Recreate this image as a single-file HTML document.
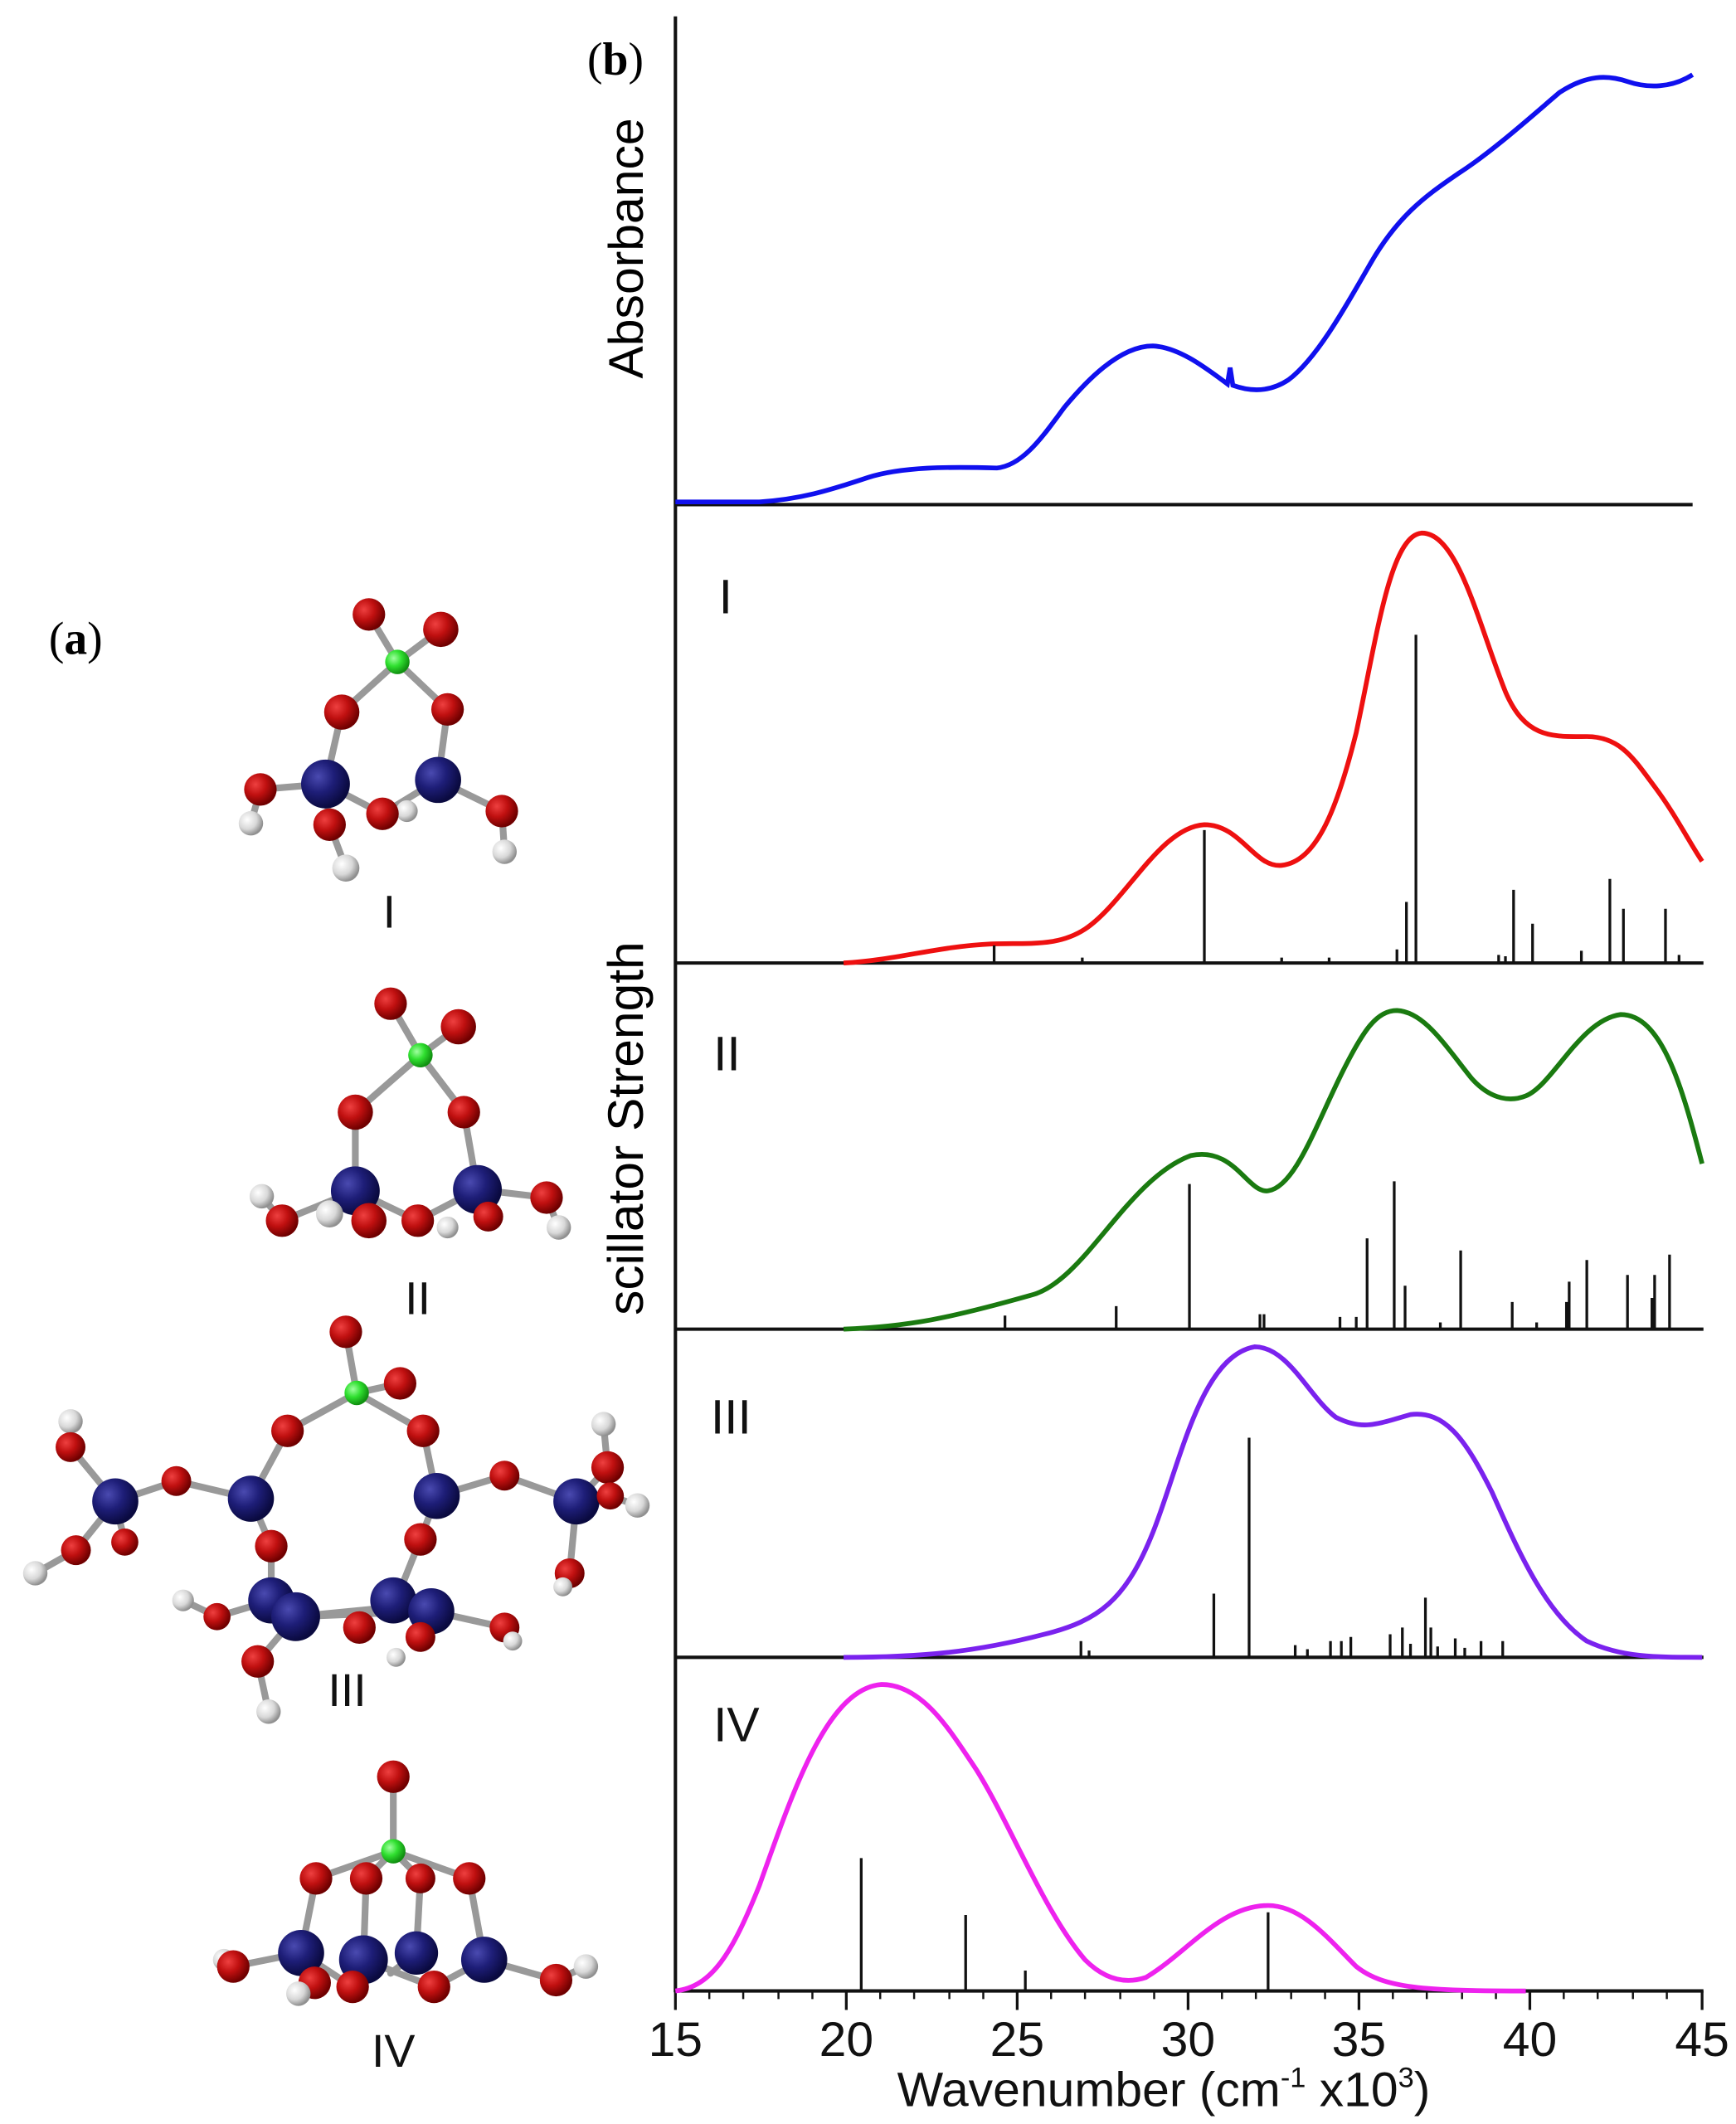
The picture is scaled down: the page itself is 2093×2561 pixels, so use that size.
<!DOCTYPE html>
<html><head><meta charset="utf-8"><style>
html,body{margin:0;padding:0;background:#fff;}
svg{display:block;}
</style></head><body>
<svg width="2093" height="2561" viewBox="0 0 1280 1566" xmlns="http://www.w3.org/2000/svg" font-family="Liberation Sans, sans-serif">
<defs>
<radialGradient id="gO" cx="35%" cy="35%" r="65%"><stop offset="0" stop-color="#ee4040"/><stop offset="0.5" stop-color="#c01010"/><stop offset="1" stop-color="#700000"/></radialGradient>
<radialGradient id="gS" cx="35%" cy="35%" r="65%"><stop offset="0" stop-color="#4a4ab0"/><stop offset="0.5" stop-color="#1e1e78"/><stop offset="1" stop-color="#0a0a40"/></radialGradient>
<radialGradient id="gG" cx="35%" cy="35%" r="65%"><stop offset="0" stop-color="#a0ffa0"/><stop offset="0.5" stop-color="#30e030"/><stop offset="1" stop-color="#109010"/></radialGradient>
<radialGradient id="gH" cx="35%" cy="35%" r="65%"><stop offset="0" stop-color="#ffffff"/><stop offset="0.6" stop-color="#d8d8d8"/><stop offset="1" stop-color="#909090"/></radialGradient>
</defs>
<rect width="1280" height="1566" fill="#fff"/>

<text x="433" y="55" font-family="Liberation Serif, serif" font-size="34">(<tspan font-weight="bold">b</tspan>)</text>
<text x="36" y="482" font-family="Liberation Serif, serif" font-size="34">(<tspan font-weight="bold">a</tspan>)</text>
<text transform="translate(474,183) rotate(-90)" text-anchor="middle" font-size="36">Absorbance</text>
<text transform="translate(474,832) rotate(-90)" text-anchor="middle" font-size="37">scillator Strength</text>

<g stroke="#111" stroke-width="2.5" fill="none">
<line x1="498" y1="12" x2="498" y2="1469"/>
<line x1="498" y1="372" x2="1248" y2="372"/>
<line x1="498" y1="710" x2="1256" y2="710"/>
<line x1="498" y1="980" x2="1256" y2="980"/>
<line x1="498" y1="1222" x2="1256" y2="1222"/>
<line x1="498" y1="1468" x2="1256" y2="1468"/>
</g>
<g stroke="#111" stroke-width="2">
<line x1="498" y1="1468" x2="498" y2="1482"/><line x1="624" y1="1468" x2="624" y2="1482"/><line x1="750" y1="1468" x2="750" y2="1482"/><line x1="876" y1="1468" x2="876" y2="1482"/><line x1="1002" y1="1468" x2="1002" y2="1482"/><line x1="1128" y1="1468" x2="1128" y2="1482"/><line x1="1255" y1="1468" x2="1255" y2="1482"/>
</g>
<g stroke="#111" stroke-width="1.5">
<path d="M523 1468v6M548 1468v6M574 1468v6M599 1468v6M649 1468v6M674 1468v6M700 1468v6M725 1468v6M775 1468v6M800 1468v6M826 1468v6M851 1468v6M901 1468v6M926 1468v6M952 1468v6M977 1468v6M1027 1468v6M1052 1468v6M1078 1468v6M1103 1468v6M1153 1468v6M1178 1468v6M1204 1468v6M1229 1468v6"/>
</g>
<g font-size="36" text-anchor="middle" fill="#111">
<text x="498" y="1516">15</text><text x="624" y="1516">20</text><text x="750" y="1516">25</text><text x="876" y="1516">30</text><text x="1002" y="1516">35</text><text x="1128" y="1516">40</text><text x="1255" y="1516">45</text>
<text x="858" y="1553" font-size="36">Wavenumber (cm<tspan font-size="21" dy="-14">-1</tspan><tspan dy="14"> x10</tspan><tspan font-size="21" dy="-14">3</tspan><tspan dy="14">)</tspan></text>
</g>
<g font-size="36" fill="#111">
<text x="530" y="452">I</text><text x="526" y="789">II</text><text x="524" y="1057">III</text><text x="526" y="1284">IV</text>
</g>

<path fill="none" stroke="#1010ee" stroke-width="3.5" d="M498 370 L560 370 C590 368 610 362 640 352 C665 344 700 344 735 345 C755 343 770 320 785 300 C800 282 825 255 850 255 C870 256 890 272 905 283 L907 271 L909 284 C920 288 935 290 950 280 C970 265 990 230 1010 195 C1030 160 1050 145 1075 128 C1100 112 1130 85 1150 68 C1170 55 1185 55 1200 60 C1215 65 1232 65 1248 55"/>

<path fill="none" stroke="#ee1010" stroke-width="3.5" d="M622 710 C660 708 690 698 730 696 C760 695 780 698 800 685 C830 665 855 610 888 608 C915 608 925 640 945 638 C970 635 985 600 1000 540 C1015 470 1025 395 1048 393 C1075 392 1090 460 1110 510 C1125 545 1145 543 1170 543 C1195 543 1205 560 1220 580 C1235 600 1245 620 1255 635"/>
<g stroke="#111" stroke-width="2">
<path d="M733 710V697M888 710V612M1044 710V468M1037 710V665M1030 710V700M1116 710V656M1130 710V681M1187 710V648M1197 710V670M1228 710V670M1166 710V701M1105 710V704M1110 710V705M1238 710V704M798 710V706M945 710V706M980 710V706"/>
</g>

<path fill="none" stroke="#1a7a10" stroke-width="3.5" d="M622 980 C670 978 700 972 760 955 C800 945 830 870 878 852 C910 845 920 880 935 878 C955 875 970 830 990 790 C1005 760 1015 745 1030 745 C1050 746 1065 770 1085 795 C1100 812 1115 812 1125 808 C1145 800 1165 752 1195 748 C1225 748 1240 800 1255 858"/>
<g stroke="#111" stroke-width="2">
<path d="M741 980V970M823 980V963M877 980V873M1028 980V871M1008 980V913M1036 980V948M1077 980V922M1200 980V940M1170 980V929M1157 980V945M1155 980V960M1231 980V925M1220 980V940M1218 980V957M929 980V969M932 980V969M988 980V971M1000 980V971M1115 980V960M1133 980V975M1062 980V975"/>
</g>

<path fill="none" stroke="#7a22ee" stroke-width="3.5" d="M622 1222 C680 1222 720 1218 770 1205 C810 1195 830 1180 850 1130 C870 1080 885 1000 925 993 C950 993 965 1030 985 1045 C1005 1055 1015 1050 1040 1043 C1065 1040 1080 1060 1100 1100 C1120 1145 1140 1190 1170 1210 C1195 1222 1220 1222 1255 1222"/>
<g stroke="#111" stroke-width="2">
<path d="M921 1222V1060M895 1222V1175M797 1222V1210M803 1222V1217M1051 1222V1178M1055 1222V1200M1034 1222V1200M1025 1222V1205M996 1222V1207M989 1222V1210M981 1222V1210M955 1222V1213M964 1222V1216M1073 1222V1208M1092 1222V1210M1108 1222V1210M1040 1222V1212M1060 1222V1214M1080 1222V1215"/>
</g>

<path fill="none" stroke="#ee22ee" stroke-width="3.5" d="M498 1468 C525 1465 540 1440 560 1390 C585 1320 610 1245 650 1242 C680 1242 700 1275 720 1305 C745 1345 770 1410 800 1445 C815 1460 830 1463 845 1458 C875 1440 900 1405 935 1405 C960 1405 980 1430 1000 1450 C1020 1466 1050 1468 1125 1468"/>
<g stroke="#111" stroke-width="2">
<path d="M635 1468V1370M712 1468V1412M756 1468V1453M935 1468V1410"/>
</g>

<g stroke="#999" stroke-width="5" stroke-linecap="round">
<path d="M293 488L272 453M293 488L325 464M293 488L252 525M293 488L330 523M252 525L240 578M330 523L323 575M240 578L192 582M240 578L243 608M240 578L282 600M323 575L282 600M323 575L370 598M192 582L185 607M243 608L255 640M370 598L372 628"/>
<path d="M310 778L288 740M310 778L338 757M310 778L262 820M310 778L342 820M262 820L262 878M342 820L352 877M262 878L208 900M262 878L272 900M262 878L308 900M352 877L308 900M352 877L403 883M352 877L360 897M208 900L193 882M403 883L412 905"/>
<path d="M263 1027L255 982M263 1027L295 1020M263 1027L212 1055M263 1027L312 1055M212 1055L185 1105M312 1055L322 1103M185 1105L130 1092M130 1092L85 1107M322 1103L372 1088M372 1088L425 1107M85 1107L52 1067M85 1107L56 1143M85 1107L92 1137M52 1067L52 1048M56 1143L26 1160M425 1107L448 1082M425 1107L450 1103M425 1107L420 1160M448 1082L445 1050M450 1103L470 1110M185 1105L200 1140M322 1103L310 1135M200 1140L200 1180M310 1135L290 1185M218 1192L290 1185M218 1192L318 1188M200 1180L160 1192M318 1188L372 1200M218 1192L190 1225M190 1225L198 1262M160 1192L135 1180"/>
<path d="M290 1310L290 1365M290 1365L233 1385M290 1365L270 1385M290 1365L310 1385M290 1365L346 1385M233 1385L222 1440M270 1385L268 1445M310 1385L307 1440M346 1385L357 1445M222 1440L172 1450M357 1445L410 1460M410 1460L432 1450M222 1440L260 1465M268 1445L320 1465M307 1440L288 1455M357 1445L320 1465"/>
</g>
<g>
<circle cx="185" cy="607" r="9" fill="url(#gH)"/><circle cx="255" cy="640" r="10" fill="url(#gH)"/><circle cx="372" cy="628" r="9" fill="url(#gH)"/><circle cx="300" cy="598" r="8" fill="url(#gH)"/>
<circle cx="272" cy="453" r="12" fill="url(#gO)"/><circle cx="325" cy="464" r="13" fill="url(#gO)"/><circle cx="252" cy="525" r="13" fill="url(#gO)"/><circle cx="330" cy="523" r="12" fill="url(#gO)"/>
<circle cx="293" cy="488" r="9" fill="url(#gG)"/>
<circle cx="240" cy="578" r="18" fill="url(#gS)"/><circle cx="323" cy="575" r="17" fill="url(#gS)"/>
<circle cx="192" cy="582" r="12" fill="url(#gO)"/><circle cx="243" cy="608" r="12" fill="url(#gO)"/><circle cx="282" cy="600" r="12" fill="url(#gO)"/><circle cx="370" cy="598" r="12" fill="url(#gO)"/>
<circle cx="193" cy="882" r="9" fill="url(#gH)"/><circle cx="412" cy="905" r="9" fill="url(#gH)"/>
<circle cx="288" cy="740" r="12" fill="url(#gO)"/><circle cx="338" cy="757" r="13" fill="url(#gO)"/><circle cx="262" cy="820" r="13" fill="url(#gO)"/><circle cx="342" cy="820" r="12" fill="url(#gO)"/>
<circle cx="310" cy="778" r="9" fill="url(#gG)"/>
<circle cx="262" cy="878" r="18" fill="url(#gS)"/><circle cx="352" cy="877" r="18" fill="url(#gS)"/>
<circle cx="360" cy="897" r="11" fill="url(#gO)"/><circle cx="208" cy="900" r="12" fill="url(#gO)"/><circle cx="243" cy="895" r="10" fill="url(#gH)"/><circle cx="272" cy="900" r="13" fill="url(#gO)"/><circle cx="308" cy="900" r="12" fill="url(#gO)"/><circle cx="330" cy="905" r="8" fill="url(#gH)"/><circle cx="403" cy="883" r="12" fill="url(#gO)"/>
<circle cx="52" cy="1048" r="9" fill="url(#gH)"/><circle cx="445" cy="1050" r="9" fill="url(#gH)"/><circle cx="26" cy="1160" r="9" fill="url(#gH)"/><circle cx="470" cy="1110" r="9" fill="url(#gH)"/><circle cx="135" cy="1180" r="8" fill="url(#gH)"/>
<circle cx="255" cy="982" r="12" fill="url(#gO)"/><circle cx="295" cy="1020" r="12" fill="url(#gO)"/><circle cx="212" cy="1055" r="12" fill="url(#gO)"/><circle cx="312" cy="1055" r="12" fill="url(#gO)"/>
<circle cx="263" cy="1027" r="9" fill="url(#gG)"/>
<circle cx="52" cy="1067" r="11" fill="url(#gO)"/><circle cx="130" cy="1092" r="11" fill="url(#gO)"/><circle cx="372" cy="1088" r="11" fill="url(#gO)"/><circle cx="92" cy="1137" r="10" fill="url(#gO)"/><circle cx="56" cy="1143" r="11" fill="url(#gO)"/>
<circle cx="85" cy="1107" r="17" fill="url(#gS)"/><circle cx="185" cy="1105" r="17" fill="url(#gS)"/><circle cx="322" cy="1103" r="17" fill="url(#gS)"/><circle cx="425" cy="1107" r="17" fill="url(#gS)"/>
<circle cx="448" cy="1082" r="12" fill="url(#gO)"/><circle cx="450" cy="1103" r="10" fill="url(#gO)"/><circle cx="420" cy="1160" r="11" fill="url(#gO)"/><circle cx="415" cy="1170" r="7" fill="url(#gH)"/>
<circle cx="200" cy="1140" r="12" fill="url(#gO)"/><circle cx="310" cy="1135" r="12" fill="url(#gO)"/>
<circle cx="160" cy="1192" r="10" fill="url(#gO)"/><circle cx="200" cy="1180" r="17" fill="url(#gS)"/><circle cx="290" cy="1180" r="17" fill="url(#gS)"/><circle cx="318" cy="1188" r="17" fill="url(#gS)"/><circle cx="218" cy="1192" r="18" fill="url(#gS)"/>
<circle cx="265" cy="1200" r="12" fill="url(#gO)"/><circle cx="310" cy="1207" r="11" fill="url(#gO)"/><circle cx="372" cy="1200" r="11" fill="url(#gO)"/><circle cx="378" cy="1210" r="7" fill="url(#gH)"/><circle cx="292" cy="1222" r="7" fill="url(#gH)"/>
<circle cx="190" cy="1225" r="12" fill="url(#gO)"/><circle cx="198" cy="1262" r="9" fill="url(#gH)"/>
<circle cx="165" cy="1445" r="8" fill="url(#gH)"/><circle cx="432" cy="1450" r="9" fill="url(#gH)"/>
<circle cx="290" cy="1310" r="12" fill="url(#gO)"/>
<circle cx="233" cy="1385" r="12" fill="url(#gO)"/><circle cx="270" cy="1385" r="12" fill="url(#gO)"/><circle cx="310" cy="1385" r="11" fill="url(#gO)"/><circle cx="346" cy="1385" r="12" fill="url(#gO)"/>
<circle cx="290" cy="1365" r="9" fill="url(#gG)"/>
<circle cx="222" cy="1440" r="17" fill="url(#gS)"/><circle cx="268" cy="1445" r="18" fill="url(#gS)"/><circle cx="307" cy="1440" r="16" fill="url(#gS)"/><circle cx="357" cy="1445" r="17" fill="url(#gS)"/>
<circle cx="172" cy="1450" r="12" fill="url(#gO)"/><circle cx="232" cy="1462" r="12" fill="url(#gO)"/><circle cx="220" cy="1470" r="9" fill="url(#gH)"/><circle cx="260" cy="1465" r="12" fill="url(#gO)"/><circle cx="320" cy="1465" r="12" fill="url(#gO)"/><circle cx="410" cy="1460" r="12" fill="url(#gO)"/>
</g>
<g font-size="34" fill="#111" text-anchor="middle">
<text x="287" y="684">I</text><text x="308" y="969">II</text><text x="256" y="1258">III</text><text x="290" y="1524">IV</text>
</g>
</svg>
</body></html>
